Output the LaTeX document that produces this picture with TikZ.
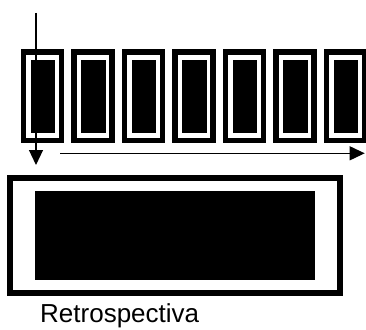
\documentclass[tikz,border=0pt]{standalone}
\usepackage{fontspec}
\setmainfont{Liberation Sans}
\usetikzlibrary{arrows.meta}
\begin{document}
\begin{tikzpicture}[x=1pt,y=-1pt,
  framebox/.style={draw=black,line width=5.5pt,inner sep=0pt,minimum width=38pt,minimum height=88.5pt,fill=white},
  corebox/.style={fill=black,inner sep=0pt,minimum width=24.5pt,minimum height=73pt},
  bigframe/.style={draw=black,line width=6pt,inner sep=0pt,minimum width=330pt,minimum height=115pt,fill=white},
  bigcore/.style={fill=black,inner sep=0pt,minimum width=280pt,minimum height=89.3pt},
  flow/.style={line width=1.2pt,-{Triangle[length=15pt,width=14pt]}},
  caption/.style={font=\fontsize{26}{30}\selectfont,inner sep=0pt,anchor=base west}]
\useasboundingbox (0,0) rectangle (366,329);
\foreach \i in {0,...,6}{
  \pgfmathsetmacro{\L}{20.7+50.5*\i}
  \node[framebox] (f\i) at (\L+21.75,96) {};
  \node[corebox] (c\i) at (\L+22.25,96.5) {};
}
\node[bigframe] (big) at (175.3,235.5) {};
\node[bigcore] (bigin) at (175,235.3) {};
\node[caption] (lbl) at (40,322.5) {Retrospectiva};
\coordinate (vs) at (36,13);
\coordinate (vt) at (36,165);
\coordinate (hs) at (60,153.3);
\coordinate (ht) at (364.7,153.3);
\draw[flow] (vs) -- (vt);
\draw[flow] (hs) -- (ht);
\end{tikzpicture}
\end{document}
